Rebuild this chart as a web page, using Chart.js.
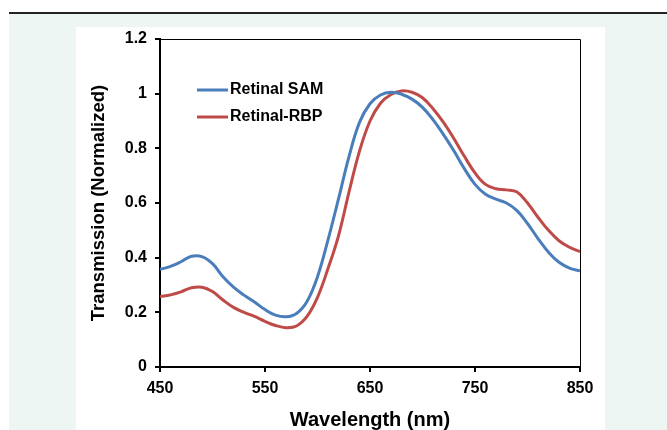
<!DOCTYPE html>
<html>
<head>
<meta charset="utf-8">
<script src="https://cdn.jsdelivr.net/npm/chart.js@4"></script>
<style>
  html, body { margin: 0; padding: 0; background: #fff; }
  body { width: 667px; height: 430px; position: relative; overflow: hidden; font-family: "Liberation Sans", Arial, sans-serif; }
  #rule { position: absolute; left: 9px; top: 12px; width: 658px; height: 1px; border-top: 2px solid #222; }
  #bg { position: absolute; left: 9px; top: 14px; width: 658px; height: 416px; background: #edf6f2; }
  #panel { position: absolute; left: 76px; top: 27px; width: 529px; height: 403px; background: #fff; }
  canvas { display: block; }
</style>
</head>
<body>
<div id="rule"></div>
<div id="bg"></div>
<div id="panel"><canvas id="trendChart" width="529" height="403"></canvas></div>
<script>
  const wavelengths = [450, 460, 470, 480, 490, 500, 510, 520, 530, 540, 550, 560, 570, 580, 590, 600,
    610, 620, 630, 640, 650, 660, 670, 680, 690, 700, 710, 720, 730, 740, 750, 760, 770, 780, 790, 800,
    810, 820, 830, 840, 850];

  const samValues = [0.357, 0.368, 0.385, 0.405, 0.404, 0.378, 0.33, 0.292, 0.263, 0.238, 0.21, 0.19,
    0.184, 0.196, 0.24, 0.33, 0.465, 0.615, 0.77, 0.895, 0.963, 0.995, 1.005, 0.998, 0.98, 0.95, 0.905,
    0.85, 0.79, 0.725, 0.668, 0.632, 0.614, 0.6, 0.572, 0.525, 0.47, 0.42, 0.383, 0.362, 0.352];

  const rbpValues = [0.257, 0.264, 0.275, 0.29, 0.292, 0.276, 0.245, 0.218, 0.2, 0.185, 0.167, 0.152,
    0.144, 0.15, 0.185, 0.255, 0.36, 0.48, 0.64, 0.79, 0.9, 0.965, 0.997, 1.01, 1.005, 0.985, 0.945,
    0.895, 0.835, 0.77, 0.71, 0.668, 0.652, 0.648, 0.64, 0.6, 0.548, 0.5, 0.462, 0.438, 0.422];

  const seriesNames = ['Retinal SAM', 'Retinal-RBP'];
  const xTicks = [450, 550, 650, 750, 850];
  const yTicks = [0, 0.2, 0.4, 0.6, 0.8, 1, 1.2];

  const toPoints = vals => wavelengths.map((w, i) => ({ x: w, y: vals[i] }));

  // box around the plot plus the in-plot legend
  const framePlugin = {
    id: 'frame',
    afterDraw(chart) {
      const { ctx, chartArea: a } = chart;
      ctx.save();
      ctx.strokeStyle = '#000';
      ctx.lineWidth = 1;
      ctx.beginPath();
      ctx.moveTo(a.left, a.top + 0.5);
      ctx.lineTo(a.right + 0.5, a.top + 0.5);
      ctx.lineTo(a.right + 0.5, a.bottom);
      ctx.stroke();

      ctx.font = 'bold 16px "Liberation Sans", Arial, sans-serif';
      ctx.textBaseline = 'middle';
      ctx.fillStyle = '#000';
      chart.data.datasets.forEach((ds, i) => {
        const y = a.top + 51 + i * 27;
        ctx.strokeStyle = ds.borderColor;
        ctx.lineWidth = 3;
        ctx.beginPath();
        ctx.moveTo(a.left + 37, y);
        ctx.lineTo(a.left + 68, y);
        ctx.stroke();
        ctx.fillText(ds.label, a.left + 70, y);
      });
      ctx.restore();
    }
  };

  const tickFont = { family: '"Liberation Sans", Arial, sans-serif', size: 16, weight: 'bold' };

  new Chart(document.getElementById('trendChart'), {
    type: 'line',
    data: {
      datasets: [
        { label: seriesNames[0], data: toPoints(samValues), borderColor: '#4a7ebb', borderWidth: 3,
          pointRadius: 0, tension: 0.4, fill: false },
        { label: seriesNames[1], data: toPoints(rbpValues), borderColor: '#be4b48', borderWidth: 3,
          pointRadius: 0, tension: 0.4, fill: false }
      ]
    },
    options: {
      responsive: false,
      animation: false,
      layout: { padding: { left: 0, right: 25, top: 12, bottom: 0 } },
      plugins: { legend: { display: false }, tooltip: { enabled: false } },
      scales: {
        x: {
          type: 'linear',
          min: 450,
          max: 850,
          afterBuildTicks: s => { s.ticks = xTicks.map(v => ({ value: v })); },
          afterFit: s => { s.height = 63; s.paddingLeft = 0; s.paddingRight = 0; },
          ticks: { color: '#000', font: tickFont, padding: 7, maxRotation: 0 },
          grid: { display: true, drawOnChartArea: false, drawTicks: true, tickLength: 5, color: '#000', lineWidth: 2 },
          border: { display: true, color: '#000', width: 2 },
          title: { display: true, text: 'Wavelength (nm)', color: '#000',
            font: { family: '"Liberation Sans", Arial, sans-serif', size: 20, weight: 'bold' },
            padding: { top: 4, bottom: -2 } }
        },
        y: {
          min: 0,
          max: 1.2,
          afterBuildTicks: s => { s.ticks = yTicks.map(v => ({ value: v })); },
          afterFit: s => { s.width = 84; s.paddingTop = 0; s.paddingBottom = 0; },
          ticks: { color: '#000', font: tickFont, padding: 8, callback: v => String(Math.round(v * 10) / 10) },
          grid: { display: true, drawOnChartArea: false, drawTicks: true, tickLength: 5, color: '#000', lineWidth: 2 },
          border: { display: true, color: '#000', width: 2 },
          title: { display: true, text: 'Transmission (Normalized)', color: '#000',
            font: { family: '"Liberation Sans", Arial, sans-serif', size: 18.5, weight: 'bold' },
            padding: { top: 12, bottom: 0 } }
        }
      }
    },
    plugins: [framePlugin]
  });
</script>
</body>
</html>
